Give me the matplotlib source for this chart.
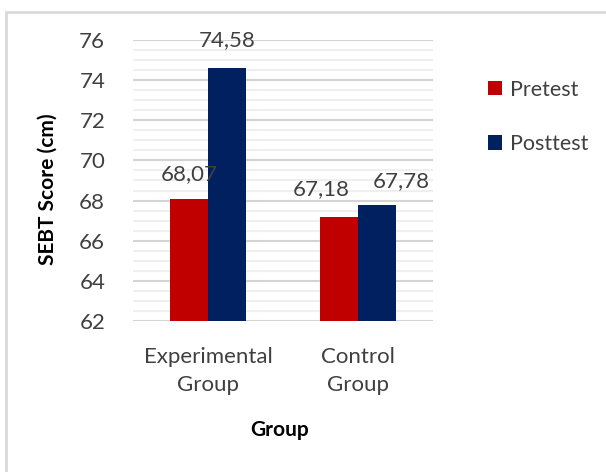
import matplotlib.pyplot as plt
import numpy as np
from matplotlib.patches import Rectangle
from matplotlib.ticker import MultipleLocator

plt.rcParams["font.family"] = ["Lato", "DejaVu Sans"]

groups = ["Experimental\nGroup", "Control\nGroup"]
series_names = ["Pretest", "Posttest"]
pretest = [68.07, 67.18]
posttest = [74.58, 67.78]
value_labels_pre = ["68,07", "67,18"]
value_labels_post = ["74,58", "67,78"]
colors = ["#C00000", "#002060"]

# label nudges in pixels (Excel moved the control labels apart)
nudge_pre = [(0, 25), (-18, 28)]
nudge_post = [(0, 28), (24, 24)]

fig = plt.figure(figsize=(6.06, 4.72), dpi=100)
ax = fig.add_axes([0.2195, 0.3199, 0.495, 0.5954])

# outer chart border (clipped at right/bottom like the source)
fig.patches.append(Rectangle((6 / 606, -0.05), 1.1, 1 - 12 / 472 + 0.05,
                             transform=fig.transFigure, fill=False,
                             edgecolor="#d9d9d9", linewidth=2, zorder=0))

x = np.arange(len(groups))
w = 0.255
bars_pre = ax.bar(x - w / 2, pretest, w, color=colors[0], label=series_names[0], zorder=3)
bars_post = ax.bar(x + w / 2, posttest, w, color=colors[1], label=series_names[1], zorder=3)

px = 72 / fig.dpi
for bars, labels, nudges in [(bars_pre, value_labels_pre, nudge_pre),
                             (bars_post, value_labels_post, nudge_post)]:
    for b, lab, (dx, dy) in zip(bars, labels, nudges):
        ax.annotate(lab, (b.get_x() + b.get_width() / 2, b.get_height()),
                    xytext=(dx * px, dy * px), textcoords="offset points",
                    ha="center", va="center", fontsize=16, color="#404040",
                    zorder=4)

ax.set_ylim(62, 76)
ax.set_xlim(-0.5, 1.5)
ax.yaxis.set_major_locator(MultipleLocator(2))
ax.yaxis.set_minor_locator(MultipleLocator(0.5))
ax.grid(axis="y", which="major", color="#d4d4d4", linewidth=1.5, zorder=1)
ax.grid(axis="y", which="minor", color="#efefef", linewidth=1.5, zorder=1)
ax.set_axisbelow(True)
for s in ax.spines.values():
    s.set_visible(False)

ax.set_xticks(x)
ax.set_xticklabels(groups, linespacing=1.45)
ax.tick_params(axis="both", which="both", length=0, labelsize=16, labelcolor="#404040")
ax.tick_params(axis="y", pad=20)
ax.tick_params(axis="x", pad=19)

ax.set_ylabel("SEBT Score (cm)", fontsize=15, fontweight="bold")
ax.yaxis.set_label_coords(-0.25, 0.47)
fig.text(280 / 606, 1 - 430 / 472, "Group", fontsize=15, fontweight="bold",
         ha="center", va="center")

leg = fig.legend(loc="center left", bbox_to_anchor=(488 / 606, 1 - 117 / 472),
                 frameon=False, fontsize=15.5, handlelength=0.65, handleheight=0.65,
                 handletextpad=0.35, labelspacing=1.6, labelcolor="#404040",
                 borderpad=0, borderaxespad=0)

fig.savefig("out.png", dpi=100)
